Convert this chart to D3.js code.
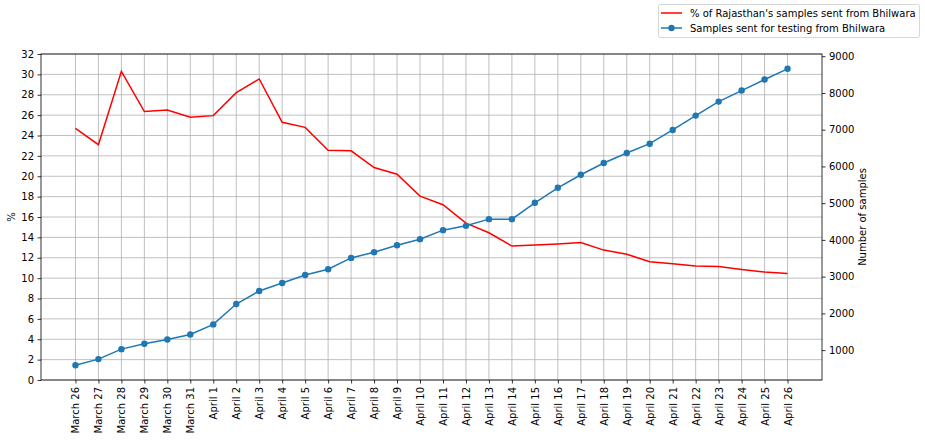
<!DOCTYPE html>
<html><head><meta charset="utf-8">
<script src="https://cdn.jsdelivr.net/npm/d3@7/dist/d3.min.js"></script>
<style>
body{margin:0;background:#fff;}
svg{font-family:"DejaVu Sans",sans-serif;}
</style></head>
<body><svg id="c" width="925" height="441"></svg>
<script>
const dates = ["March 26","March 27","March 28","March 29","March 30","March 31","April 1","April 2","April 3","April 4","April 5","April 6","April 7","April 8","April 9","April 10","April 11","April 12","April 13","April 14","April 15","April 16","April 17","April 18","April 19","April 20","April 21","April 22","April 23","April 24","April 25","April 26"];
const pctValues = [24.7,23.1,30.3,26.35,26.5,25.8,25.95,28.2,29.55,25.3,24.8,22.55,22.5,20.85,20.2,18.05,17.2,15.4,14.45,13.15,13.25,13.35,13.5,12.75,12.35,11.6,11.4,11.2,11.15,10.85,10.6,10.45];
const sampleValues = [590,755,1027,1172,1291,1427,1700,2255,2609,2827,3046,3200,3510,3665,3855,4020,4265,4383,4565,4565,5010,5419,5774,6093,6365,6619,6993,7383,7765,8065,8365,8657];
const leftTicks = d3.range(0,33,2);
const rightTicks = [1000,2000,3000,4000,5000,6000,7000,8000,9000];
const legendLabels = ["% of Rajasthan's samples sent from Bhilwara","Samples sent for testing from Bhilwara"];

const svg = d3.select("#c");
const L=41,R=822,T=54,B=380;
const x = d3.scaleLinear().domain([-1.5, dates.length+0.5]).range([L,R]);
const yL = d3.scaleLinear().domain([0,32]).range([B,T]);
const smin = d3.min(sampleValues), smax = d3.max(sampleValues), m=(smax-smin)*0.05;
const yR = d3.scaleLinear().domain([smin-m, smax+m]).range([B,T]);

// grid
const g = svg.append("g");
g.selectAll(".vg").data(dates).enter().append("line")
 .attr("x1",(d,i)=>x(i)).attr("x2",(d,i)=>x(i)).attr("y1",T).attr("y2",B)
 .attr("stroke","#b0b0b0").attr("stroke-width",0.8);
g.selectAll(".hg").data(leftTicks).enter().append("line")
 .attr("x1",L).attr("x2",R).attr("y1",d=>yL(d)).attr("y2",d=>yL(d))
 .attr("stroke","#b0b0b0").attr("stroke-width",0.8);

// lines
svg.append("path").datum(pctValues)
 .attr("d",d3.line().x((d,i)=>x(i)).y(d=>yL(d)))
 .attr("fill","none").attr("stroke","#ff0000").attr("stroke-width",1.5);
svg.append("path").datum(sampleValues)
 .attr("d",d3.line().x((d,i)=>x(i)).y(d=>yR(d)))
 .attr("fill","none").attr("stroke","#1f77b4").attr("stroke-width",1.5);
svg.selectAll(".dot").data(sampleValues).enter().append("circle")
 .attr("cx",(d,i)=>x(i)).attr("cy",d=>yR(d)).attr("r",3.2).attr("fill","#1f77b4");

// axes
const axStyle = sel=>{sel.selectAll("text").attr("font-size","10px").attr("fill","#000").attr("font-family","DejaVu Sans");sel.selectAll("line").attr("stroke","#000").attr("stroke-width",0.8);sel.select(".domain").remove();};
svg.append("g").attr("transform",`translate(${L},0)`)
 .call(d3.axisLeft(yL).tickValues(leftTicks).tickSize(3.5).tickPadding(3.5)).call(axStyle);
svg.append("g").attr("transform",`translate(${R},0)`)
 .call(d3.axisRight(yR).tickValues(rightTicks).tickSize(3.5).tickPadding(3.5).tickFormat(d3.format("d"))).call(axStyle);
const xa = svg.append("g").attr("transform",`translate(0,${B})`)
 .call(d3.axisBottom(x).tickValues(d3.range(dates.length)).tickFormat(i=>dates[i]).tickSize(3.5).tickPadding(3.5)).call(axStyle);
xa.selectAll("text").attr("transform","rotate(-90)").attr("text-anchor","end")
 .attr("x",-7).attr("y",0).attr("dy","0.35em");

// frame
svg.append("rect").attr("x",L).attr("y",T).attr("width",R-L).attr("height",B-T)
 .attr("fill","none").attr("stroke","#000").attr("stroke-width",0.8);

// axis labels
svg.append("text").attr("transform",`translate(15,${(T+B)/2}) rotate(-90)`)
 .attr("text-anchor","middle").attr("font-size","10px").text("%");
svg.append("text").attr("transform",`translate(866,${(T+B)/2}) rotate(-90)`)
 .attr("text-anchor","middle").attr("font-size","10px").text("Number of samples");

// legend
const lg = svg.append("g");
lg.append("rect").attr("x",658.5).attr("y",4.5).attr("width",261).attr("height",33).attr("rx",2)
 .attr("fill","#fff").attr("stroke","#cccccc").attr("stroke-width",0.8);
const rows=[13,28];
lg.append("line").attr("x1",661).attr("x2",682).attr("y1",rows[0]).attr("y2",rows[0]).attr("stroke","#ff0000").attr("stroke-width",1.5);
lg.append("line").attr("x1",661).attr("x2",682).attr("y1",rows[1]).attr("y2",rows[1]).attr("stroke","#1f77b4").attr("stroke-width",1.5);
lg.append("circle").attr("cx",671.5).attr("cy",rows[1]).attr("r",3.2).attr("fill","#1f77b4");
legendLabels.forEach((t,i)=>lg.append("text").attr("x",690).attr("y",rows[i]).attr("dy","0.35em").attr("font-size","10px").text(t));
</script></body></html>
